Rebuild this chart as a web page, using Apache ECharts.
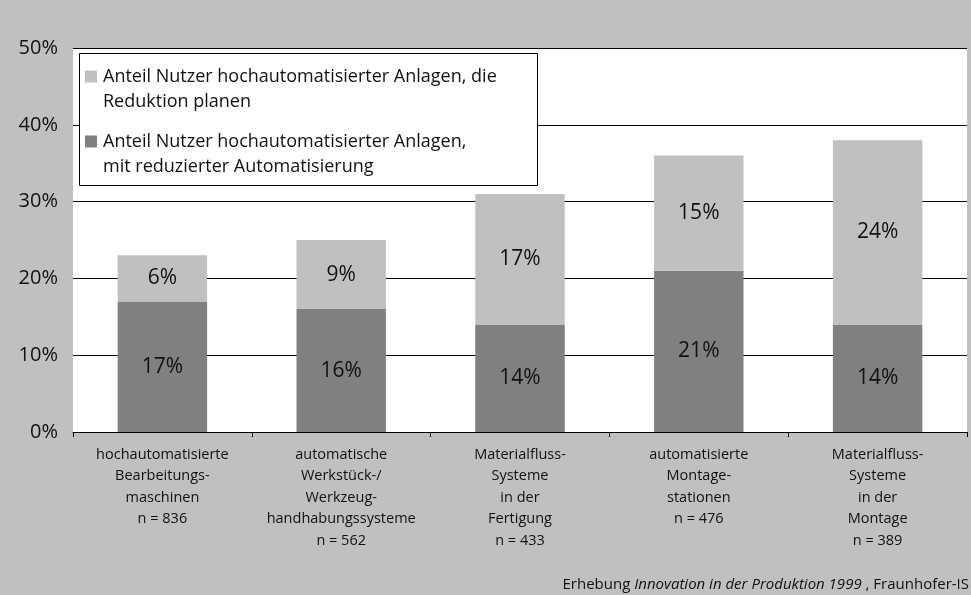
<!DOCTYPE html>
<html>
<head>
<meta charset="utf-8">
<script src="https://cdn.jsdelivr.net/npm/echarts@6/dist/echarts.min.js"></script>
<style>
  html, body { margin: 0; padding: 0; background: #c0c0c0; }
  #chart { width: 971px; height: 595px; }
</style>
</head>
<body>
<div id="chart"></div>
<script>
// Kategorien (Achsenbeschriftung)
const categories = [
  'hochautomatisierte\nBearbeitungs-\nmaschinen\nn = 836',
  'automatische\nWerkstück-/\nWerkzeug-\nhandhabungssysteme\nn = 562',
  'Materialfluss-\nSysteme\nin der\nFertigung\nn = 433',
  'automatisierte\nMontage-\nstationen\nn = 476',
  'Materialfluss-\nSysteme\nin der\nMontage\nn = 389'
];
// Anteil mit reduzierter Automatisierung (dunkel)
const reduziert = [17, 16, 14, 21, 14];
// Anteil, die Reduktion planen (hell)
const geplant = [6, 9, 17, 15, 24];
const yTicks = [0, 10, 20, 30, 40, 50];

const nameReduziert = 'Anteil Nutzer hochautomatisierter Anlagen,\nmit reduzierter Automatisierung';
const nameGeplant = 'Anteil Nutzer hochautomatisierter Anlagen, die\nReduktion planen';

const font = '"Open Sans", "Noto Sans", sans-serif';
const chart = echarts.init(document.getElementById('chart'));

const option = {
  backgroundColor: '#c0c0c0',
  animation: false,
  textStyle: { fontFamily: font },
  grid: {
    left: 73, right: 4, top: 48, bottom: 163,
    show: true, backgroundColor: '#fff', borderWidth: 0
  },
  legend: {
    orient: 'vertical',
    left: 85, top: 39,
    padding: 0,
    itemWidth: 12, itemHeight: 12,
    itemGap: -10,
    icon: 'rect',
    selectedMode: false,
    data: [nameGeplant, nameReduziert],
    // führende Leerzeile, damit das Symbol neben der ersten Zeile steht
    formatter: name => '\n' + name,
    textStyle: {
      fontFamily: font,
      fontSize: 18, lineHeight: 25, color: '#111',
      padding: [0, 0, 0, 1]
    },
    z: 5
  },
  graphic: [
    {
      type: 'rect', z: 4,
      shape: { x: 79.5, y: 53.5, width: 458, height: 132 },
      style: { fill: '#fff', stroke: '#000', lineWidth: 1 }
    },
    {
      type: 'text', right: 2, top: 577, z: 5,
      style: {
        text: '{n|Erhebung }{i|Innovation in der Produktion 1999}{n| , Fraunhofer-IS}',
        rich: {
          n: { fontFamily: font, fontSize: 15, fill: '#111' },
          i: { fontFamily: font, fontSize: 15, fontStyle: 'italic', fill: '#111' }
        }
      }
    }
  ],
  xAxis: {
    type: 'category',
    data: categories,
    axisLine: { lineStyle: { color: '#000', width: 1 } },
    axisTick: { show: true, length: 5, lineStyle: { color: '#000' } },
    axisLabel: {
      interval: 0, margin: 12, fontSize: 14.5, lineHeight: 21.5,
      color: '#111', fontFamily: font
    }
  },
  yAxis: {
    type: 'value',
    min: yTicks[0], max: yTicks[yTicks.length - 1], interval: 10,
    axisLine: { show: false },
    axisTick: { show: false },
    axisLabel: {
      formatter: '{value}%', fontSize: 20, color: '#111', margin: 15,
      fontFamily: font
    },
    splitLine: { lineStyle: { color: '#000', width: 1 } }
  },
  series: [
    {
      name: nameReduziert,
      type: 'bar', stack: 'total',
      barWidth: '50%',
      data: reduziert,
      itemStyle: { color: '#808080' },
      label: {
        show: true, position: 'inside', formatter: '{c}%',
        fontSize: 21, color: '#111', fontFamily: font
      }
    },
    {
      name: nameGeplant,
      type: 'bar', stack: 'total',
      barWidth: '50%',
      data: geplant,
      itemStyle: { color: '#c0c0c0' },
      label: {
        show: true, position: 'inside', formatter: '{c}%',
        fontSize: 21, color: '#111', fontFamily: font
      }
    }
  ]
};
chart.setOption(option);
</script>
</body>
</html>
